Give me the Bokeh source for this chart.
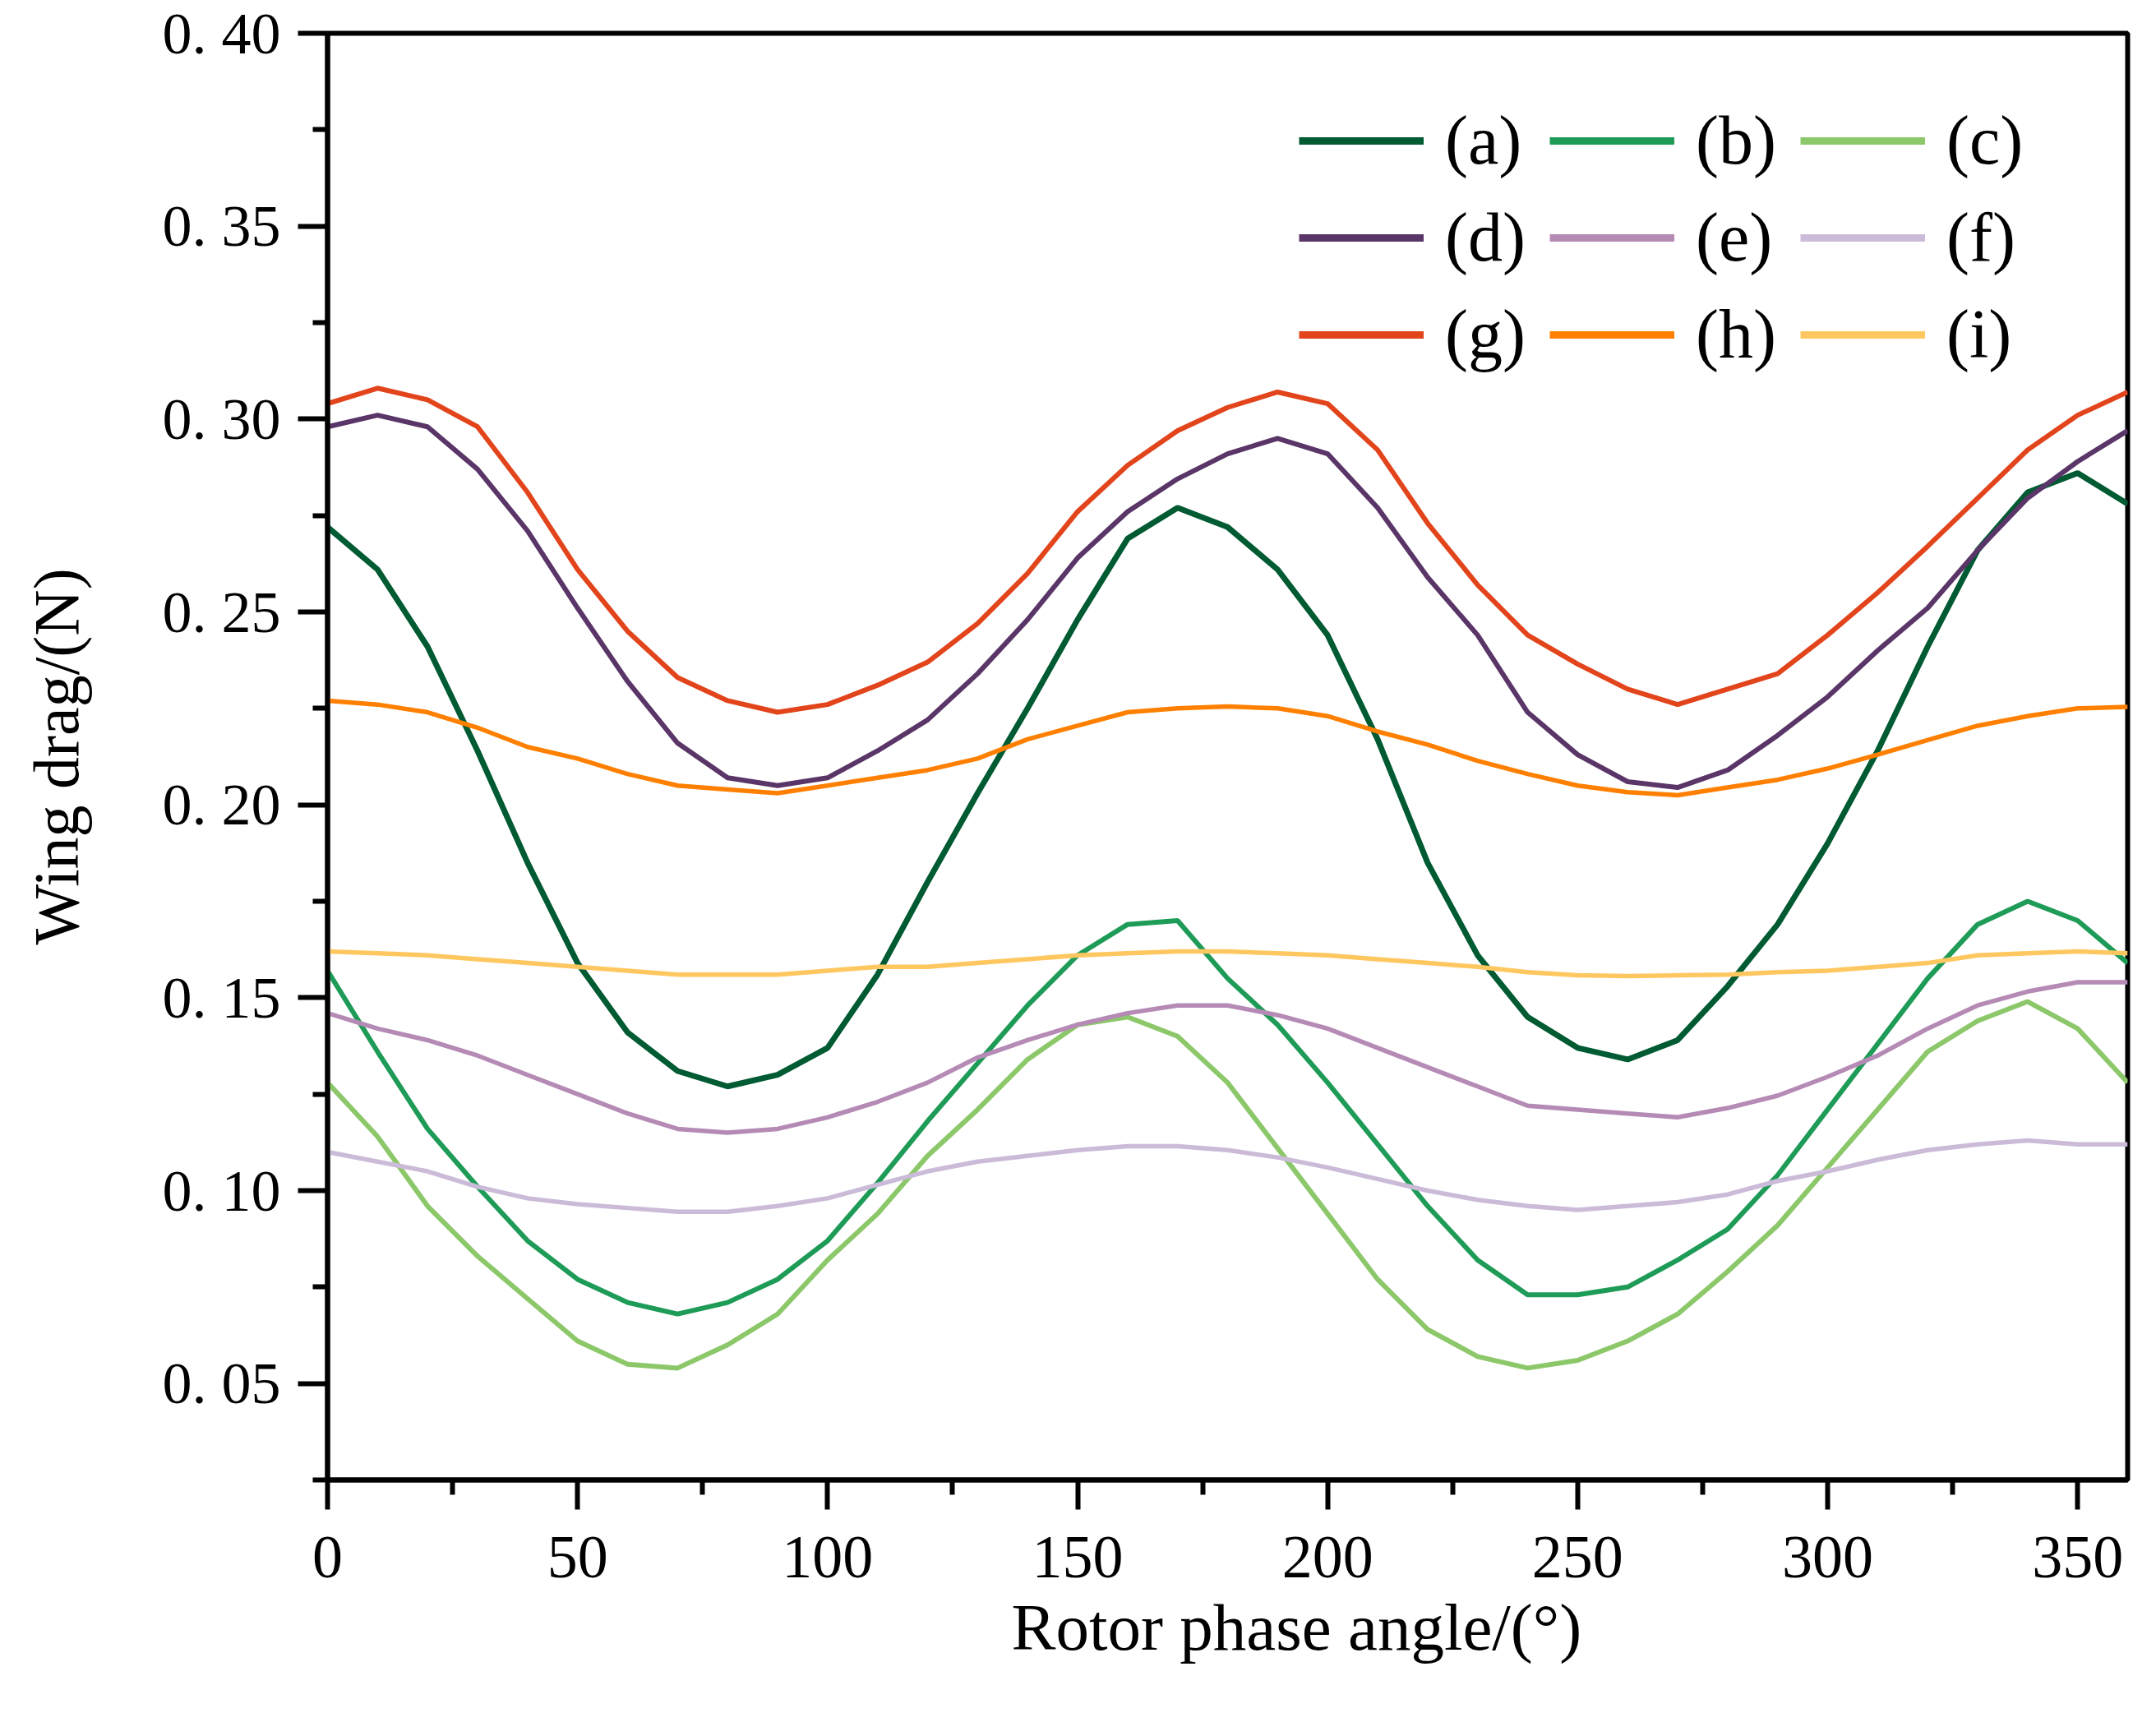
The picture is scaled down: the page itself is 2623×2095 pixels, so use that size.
from bokeh.plotting import figure
from bokeh.models import FixedTicker, Legend, LegendItem, Title, Range1d
from bokeh.embed import file_html
from bokeh.resources import INLINE

# ---------------- data ----------------
angle = [0, 10, 20, 30, 40, 50, 60, 70, 80, 90, 100, 110, 120, 130, 140, 150, 160, 170, 180,
         190, 200, 210, 220, 230, 240, 250, 260, 270, 280, 290, 300, 310, 320, 330, 340, 350, 360]

drag_a = [0.272, 0.261, 0.241, 0.214, 0.185, 0.159, 0.141, 0.131, 0.127, 0.130, 0.137, 0.156, 0.180,
          0.203, 0.225, 0.248, 0.269, 0.277, 0.272, 0.261, 0.244, 0.217, 0.185, 0.161, 0.145, 0.137,
          0.134, 0.139, 0.153, 0.169, 0.190, 0.214, 0.241, 0.266, 0.281, 0.286, 0.278]
drag_b = [0.157, 0.136, 0.116, 0.101, 0.087, 0.077, 0.071, 0.068, 0.071, 0.077, 0.087, 0.102, 0.118,
          0.133, 0.148, 0.161, 0.169, 0.170, 0.155, 0.143, 0.128, 0.112, 0.096, 0.082, 0.073, 0.073,
          0.075, 0.082, 0.090, 0.104, 0.121, 0.138, 0.155, 0.169, 0.175, 0.170, 0.159]
drag_c = [0.128, 0.114, 0.096, 0.083, 0.072, 0.061, 0.055, 0.054, 0.060, 0.068, 0.082, 0.094, 0.109,
          0.121, 0.134, 0.143, 0.145, 0.140, 0.128, 0.111, 0.094, 0.077, 0.064, 0.057, 0.054, 0.056,
          0.061, 0.068, 0.079, 0.091, 0.106, 0.121, 0.136, 0.144, 0.149, 0.142, 0.128]
drag_d = [0.298, 0.301, 0.298, 0.287, 0.271, 0.251, 0.232, 0.216, 0.207, 0.205, 0.207, 0.214, 0.222,
          0.234, 0.248, 0.264, 0.276, 0.2845, 0.291, 0.295, 0.291, 0.277, 0.259, 0.244, 0.224, 0.213,
          0.206, 0.2045, 0.209, 0.218, 0.228, 0.240, 0.251, 0.266, 0.2795, 0.289, 0.297]
drag_e = [0.146, 0.142, 0.139, 0.135, 0.130, 0.125, 0.120, 0.116, 0.115, 0.116, 0.119, 0.123, 0.128,
          0.1345, 0.139, 0.143, 0.146, 0.148, 0.148, 0.1455, 0.142, 0.137, 0.132, 0.127, 0.122, 0.121,
          0.120, 0.119, 0.1214, 0.1246, 0.1295, 0.135, 0.142, 0.148, 0.1516, 0.154, 0.154]
drag_f = [0.110, 0.1075, 0.105, 0.101, 0.098, 0.0965, 0.0955, 0.0945, 0.0945, 0.096, 0.098, 0.1015,
          0.105, 0.1075, 0.109, 0.1105, 0.1115, 0.1115, 0.1105, 0.1086, 0.106, 0.103, 0.100, 0.0976,
          0.096, 0.095, 0.096, 0.097, 0.099, 0.1025, 0.105, 0.108, 0.1105, 0.112, 0.113, 0.112, 0.112]
drag_g = [0.304, 0.308, 0.305, 0.298, 0.281, 0.261, 0.245, 0.233, 0.227, 0.224, 0.226, 0.231, 0.237,
          0.247, 0.260, 0.276, 0.288, 0.297, 0.303, 0.307, 0.304, 0.292, 0.273, 0.257, 0.244, 0.2365,
          0.230, 0.226, 0.230, 0.234, 0.244, 0.255, 0.267, 0.2795, 0.292, 0.301, 0.307]
drag_h = [0.227, 0.226, 0.224, 0.220, 0.215, 0.212, 0.208, 0.205, 0.204, 0.203, 0.205, 0.207, 0.209,
          0.212, 0.217, 0.2205, 0.224, 0.225, 0.2255, 0.225, 0.223, 0.219, 0.2156, 0.2114, 0.208, 0.205,
          0.2033, 0.2025, 0.2045, 0.2065, 0.2094, 0.213, 0.2168, 0.2205, 0.223, 0.225, 0.2254]
drag_i = [0.162, 0.1615, 0.161, 0.160, 0.159, 0.158, 0.157, 0.156, 0.156, 0.156, 0.157, 0.158, 0.158,
          0.159, 0.160, 0.161, 0.1615, 0.162, 0.162, 0.1615, 0.161, 0.160, 0.159, 0.158, 0.1566, 0.1558,
          0.1556, 0.1558, 0.156, 0.1566, 0.157, 0.158, 0.159, 0.161, 0.1615, 0.162, 0.1615]

series_labels = ["(a)", "(b)", "(c)", "(d)", "(e)", "(f)", "(g)", "(h)", "(i)"]
series_values = [drag_a, drag_b, drag_c, drag_d, drag_e, drag_f, drag_g, drag_h, drag_i]
series_colors = ["#005a32", "#1e9b57", "#8cc86a", "#5a3568", "#b58bb6", "#cbbbd8",
                 "#e2441b", "#ff8000", "#ffc760"]
series_widths = [7, 6, 6, 6, 5.5, 5.5, 6, 5.5, 5.5]

x_major_ticks = [0, 50, 100, 150, 200, 250, 300, 350]
x_minor_ticks = [25, 75, 125, 175, 225, 275, 325]
y_major_ticks = [0.05, 0.10, 0.15, 0.20, 0.25, 0.30, 0.35, 0.40]
y_tick_labels = ["0. 05", "0. 10", "0. 15", "0. 20", "0. 25", "0. 30", "0. 35", "0. 40"]
y_minor_ticks = [0.025, 0.075, 0.125, 0.175, 0.225, 0.275, 0.325, 0.375]

x_title = "Rotor phase angle/(°)"
y_title = "Wing drag/(N)"

SERIF = "Liberation Serif"

# ---------------- figure ----------------
p = figure(frame_width=2190, frame_height=1760,
           x_range=Range1d(0, 360), y_range=Range1d(0.025, 0.40),
           output_backend="svg", toolbar_location=None,
           min_border_left=398, min_border_right=22,
           min_border_top=40, min_border_bottom=280)

p.background_fill_color = "white"
p.border_fill_color = "white"
p.xgrid.visible = False
p.ygrid.visible = False
p.outline_line_color = "black"
p.outline_line_width = 6

p.xaxis.ticker = FixedTicker(ticks=x_major_ticks, minor_ticks=x_minor_ticks)
p.yaxis.ticker = FixedTicker(ticks=y_major_ticks, minor_ticks=y_minor_ticks)
p.yaxis.major_label_overrides = {t: l for t, l in zip(y_major_ticks, y_tick_labels)}

for ax in (p.xaxis, p.yaxis):
    ax.axis_line_width = 6
    ax.axis_line_color = "black"
    ax.major_tick_line_width = 6
    ax.minor_tick_line_width = 6
    ax.major_tick_line_color = "black"
    ax.minor_tick_line_color = "black"
    ax.major_tick_out = 36
    ax.major_tick_in = 0
    ax.minor_tick_out = 18
    ax.minor_tick_in = 0
    ax.major_label_text_font = SERIF
    ax.major_label_text_color = "black"

p.xaxis.major_label_text_font_size = "74px"
p.yaxis.major_label_text_font_size = "72px"
p.xaxis.major_label_standoff = 33
p.yaxis.major_label_standoff = 21

p.yaxis.axis_label = y_title
p.yaxis.axis_label_text_font = SERIF
p.yaxis.axis_label_text_font_size = "78px"
p.yaxis.axis_label_text_font_style = "normal"
p.yaxis.axis_label_text_color = "black"
p.yaxis.axis_label_standoff = 83

xt = Title(text=x_title, align="left", offset=832, vertical_align="top", standoff=26,
           text_font=SERIF, text_font_size="81px", text_font_style="normal",
           text_color="black")
p.add_layout(xt, "below")

# ---------------- lines ----------------
items = []
for lab, vals, col, lw in zip(series_labels, series_values, series_colors, series_widths):
    p.line(angle, vals, line_color=col, line_width=lw)
    # thicker, hidden twin used only for the legend swatch
    proxy = p.line(angle, vals, line_color=col, line_width=9, visible=False)
    items.append(LegendItem(label=lab, renderers=[proxy]))

legend = Legend(items=items, ncols=3, orientation="horizontal",
                location=(1182, 1345),
                glyph_width=152, glyph_height=40, label_standoff=26, spacing=21,
                label_width=106,
                padding=0, margin=0, click_policy="none",
                label_text_font=SERIF, label_text_font_size="84px", label_text_color="black",
                background_fill_alpha=0, border_line_alpha=0)
p.add_layout(legend)

open("out.html", "w").write(file_html(p, INLINE))
